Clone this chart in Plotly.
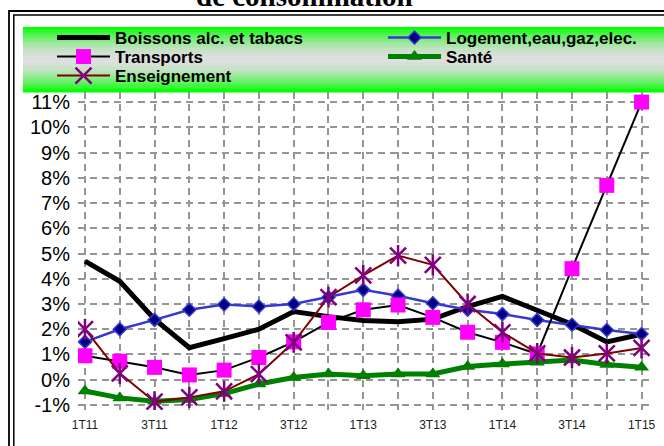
import plotly.graph_objects as go

categories = ["1T11", "2T11", "3T11", "4T11", "1T12", "2T12", "3T12", "4T12",
              "1T13", "2T13", "3T13", "4T13", "1T14", "2T14", "3T14", "4T14", "1T15"]
tick_labels = ["1T11", "", "3T11", "", "1T12", "", "3T12", "", "1T13", "", "3T13", "",
               "1T14", "", "3T14", "", "1T15"]
boissons = [4.7, 3.9, 2.4, 1.27, 1.63, 2.0, 2.7, 2.5, 2.35, 2.3, 2.4, 2.9, 3.3, 2.75, 2.2, 1.5, 1.8]
logement = [1.5, 2.0, 2.37, 2.77, 2.98, 2.9, 3.0, 3.27, 3.56, 3.33, 3.03, 2.77, 2.6, 2.37, 2.18, 1.97, 1.81]
transports = [0.95, 0.73, 0.49, 0.19, 0.38, 0.88, 1.5, 2.27, 2.77, 2.96, 2.47, 1.88, 1.48, 1.02, 4.4, 7.7, 11.0]
sante = [-0.45, -0.72, -0.85, -0.78, -0.55, -0.17, 0.09, 0.23, 0.16, 0.23, 0.23, 0.52, 0.62, 0.69, 0.78, 0.6, 0.49]
enseignement = [2.0, 0.25, -0.87, -0.7, -0.46, 0.22, 1.48, 3.27, 4.13, 4.92, 4.55, 3.0, 1.88, 1.04, 0.88, 1.04, 1.26]
y_ticks = list(range(-1, 12))
y_tick_labels = [f"{v}%" for v in y_ticks]

W, H = 664, 446
L, R, T, B = 78, 652, 92, 410


def px_x(p):
    return (p - L) / (R - L)


def px_y(p):
    return (B - p) / (B - T)


fig = go.Figure()
fig.add_trace(go.Scatter(x=categories, y=boissons, name="Boissons alc. et tabacs", mode="lines",
                         line=dict(color="black", width=5), legend="legend"))
fig.add_trace(go.Scatter(x=categories, y=logement, name="Logement,eau,gaz,elec.", mode="lines+markers",
                         line=dict(color="#3838D0", width=2.5),
                         marker=dict(symbol="diamond", size=10, color="#000080",
                                     line=dict(color="#3838D0", width=1.5)), legend="legend2"))
fig.add_trace(go.Scatter(x=categories, y=transports, name="Transports", mode="lines+markers",
                         line=dict(color="black", width=2),
                         marker=dict(symbol="square", size=15, color="#FF00FF"), legend="legend3"))
fig.add_trace(go.Scatter(x=categories, y=sante, name="Santé", mode="lines+markers",
                         line=dict(color="#008000", width=5),
                         marker=dict(symbol="triangle-up", size=13, color="#008000"), legend="legend4"))
fig.add_trace(go.Scatter(x=categories, y=enseignement, name="Enseignement", mode="lines+markers",
                         line=dict(color="#800000", width=2),
                         marker=dict(symbol="x-thin-open", size=16, color="#800080",
                                     line=dict(color="#800080", width=2.5)), legend="legend5"))
fig.add_trace(go.Scatter(x=categories, y=enseignement, mode="markers", showlegend=False,
                         hoverinfo="skip",
                         marker=dict(symbol="line-ns-open", size=15, color="#800080",
                                     line=dict(color="#800080", width=2.5))))

shapes = []
# gradient legend background
n = 40
y0p, y1p = 27, 92
for i in range(n):
    t = (i + 0.5) / n
    w = abs(t - 0.5) * 2  # 1 at edges, 0 at center
    w = min(1.0, w ** 1.8 * 1.05)
    g = (0, 255, 0)
    gr = (222, 222, 222)
    c = tuple(int(round(gr[k] * (1 - w) + g[k] * w)) for k in range(3))
    ya = y0p + (y1p - y0p) * i / n
    yb = y0p + (y1p - y0p) * (i + 1) / n + 0.6
    shapes.append(dict(type="rect", xref="paper", yref="paper",
                       x0=px_x(23), x1=px_x(700), y0=px_y(yb), y1=px_y(ya),
                       fillcolor=f"rgb{c}", line=dict(width=0), layer="below"))
# double border
shapes.append(dict(type="rect", xref="paper", yref="paper", x0=px_x(9), x1=px_x(720),
                   y0=px_y(500), y1=px_y(11), line=dict(color="black", width=1.8),
                   fillcolor="rgba(0,0,0,0)"))
shapes.append(dict(type="rect", xref="paper", yref="paper", x0=px_x(13.8), x1=px_x(720),
                   y0=px_y(500), y1=px_y(15), line=dict(color="black", width=1.5),
                   fillcolor="rgba(0,0,0,0)"))

legend_common = dict(bgcolor="rgba(0,0,0,0)", borderwidth=0, itemwidth=53,
                     font=dict(family="Arial", size=17, color="black", weight="bold"),
                     xanchor="left", yanchor="middle", orientation="h", itemclick=False)
legpos = {"legend": (52, 38), "legend2": (383, 38), "legend3": (52, 57),
          "legend4": (383, 57), "legend5": (52, 76)}
layout_legends = {k: dict(legend_common, x=px_x(x), y=px_y(y)) for k, (x, y) in legpos.items()}

fig.update_layout(
    width=W, height=H,
    margin=dict(l=L, r=W - R, t=T, b=H - B, pad=0, autoexpand=False),
    paper_bgcolor="white", plot_bgcolor="white",
    showlegend=True,
    shapes=shapes,
    annotations=[dict(text="<b>de consommation</b>", xref="paper", yref="paper",
                      x=px_x(304), y=px_y(14), xanchor="center", yanchor="bottom",
                      showarrow=False,
                      font=dict(family="Liberation Serif, Times New Roman", size=29, color="black"))],
    xaxis=dict(type="category", categoryorder="array", categoryarray=categories,
               range=[-0.2, 16.3], tickmode="array", tickvals=categories, ticktext=tick_labels,
               showgrid=True, gridcolor="#959595", gridwidth=2, griddash="7px,5px",
               showline=False, zeroline=False, ticks="", ticklabelstandoff=6,
               tickfont=dict(family="Arial", size=12, color="#222")),
    yaxis=dict(range=[-1.2, 11.4], tickmode="array", tickvals=y_ticks, ticktext=y_tick_labels,
               showgrid=True, gridcolor="#959595", gridwidth=2, griddash="7px,5px",
               showline=False, zeroline=False, ticks="", ticklabelstandoff=7,
               tickfont=dict(family="Arial", size=20, color="black")),
    **layout_legends,
)

fig.write_html("out.html", config={"displayModeBar": False},
               post_script="document.body.style.margin='0';")
